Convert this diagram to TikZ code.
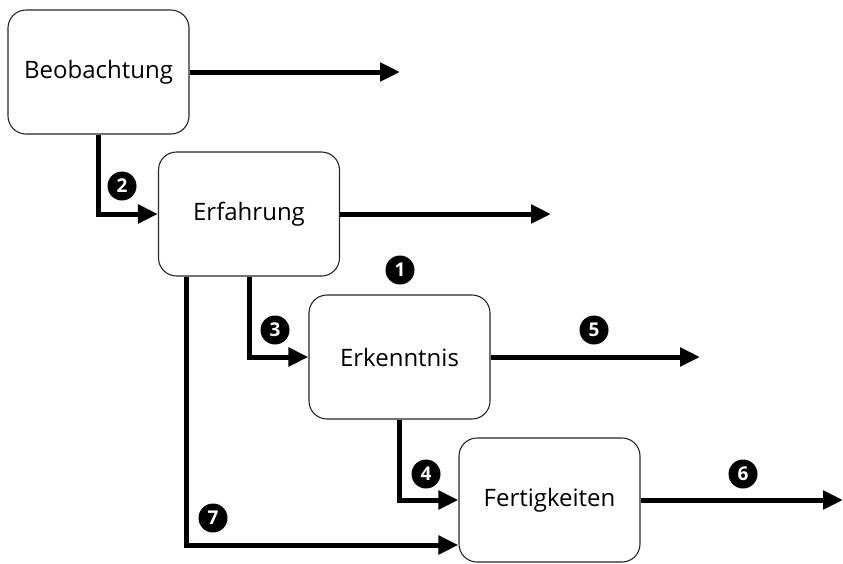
\documentclass[tikz,border=0pt]{standalone}
\usepackage{fontspec}
\setmainfont{Open Sans}
\usetikzlibrary{arrows.meta}
\tikzset{
  stepbox/.style={draw=black!85, line width=1.1pt, rounded corners=18pt, minimum width=181pt, minimum height=124pt, inner sep=0pt, fill=white, font=\fontsize{24}{29}\selectfont},
  flow/.style={line width=5pt, line join=miter, -{Triangle[length=20pt,width=18pt]}},
  badge/.style={circle, fill=black, text=white, minimum size=29pt, inner sep=0pt, font=\fontsize{19}{22}\selectfont\bfseries}
}
\begin{document}
\begin{tikzpicture}[x=1pt,y=-1pt]
\useasboundingbox (0,0) rectangle (843,563);
\node[stepbox] (B) at (98.5,72) {Beobachtung};
\node[stepbox] (E) at (249,214) {Erfahrung};
\node[stepbox] (K) at (399.5,357) {Erkenntnis};
\node[stepbox] (F) at (549.5,500) {Fertigkeiten};
\coordinate (Bo) at (400,72);
\coordinate (Eo) at (551,214);
\coordinate (Ko) at (700,357);
\coordinate (Fo) at (843,500);
\draw[flow] (B.east) -- (Bo);
\draw[flow] (E.east) -- (Eo);
\draw[flow] (K.east) -- (Ko);
\draw[flow] (F.east) -- (Fo);
\draw[flow] (B.south) |- (E.west);
\draw[flow] (E.south) |- (K.west);
\draw[flow] (K.south) |- (F.west);
\draw[flow] ([xshift=-63pt]E.south) |- ([yshift=-45pt]F.west);
\node[badge] (n1) at (400,270) {1};
\node[badge] (n2) at (122,186) {2};
\node[badge] (n3) at (275,330) {3};
\node[badge] (n4) at (426,474) {4};
\node[badge] (n5) at (594,330) {5};
\node[badge] (n6) at (743,474) {6};
\node[badge] (n7) at (213,518) {7};
\end{tikzpicture}
\end{document}
